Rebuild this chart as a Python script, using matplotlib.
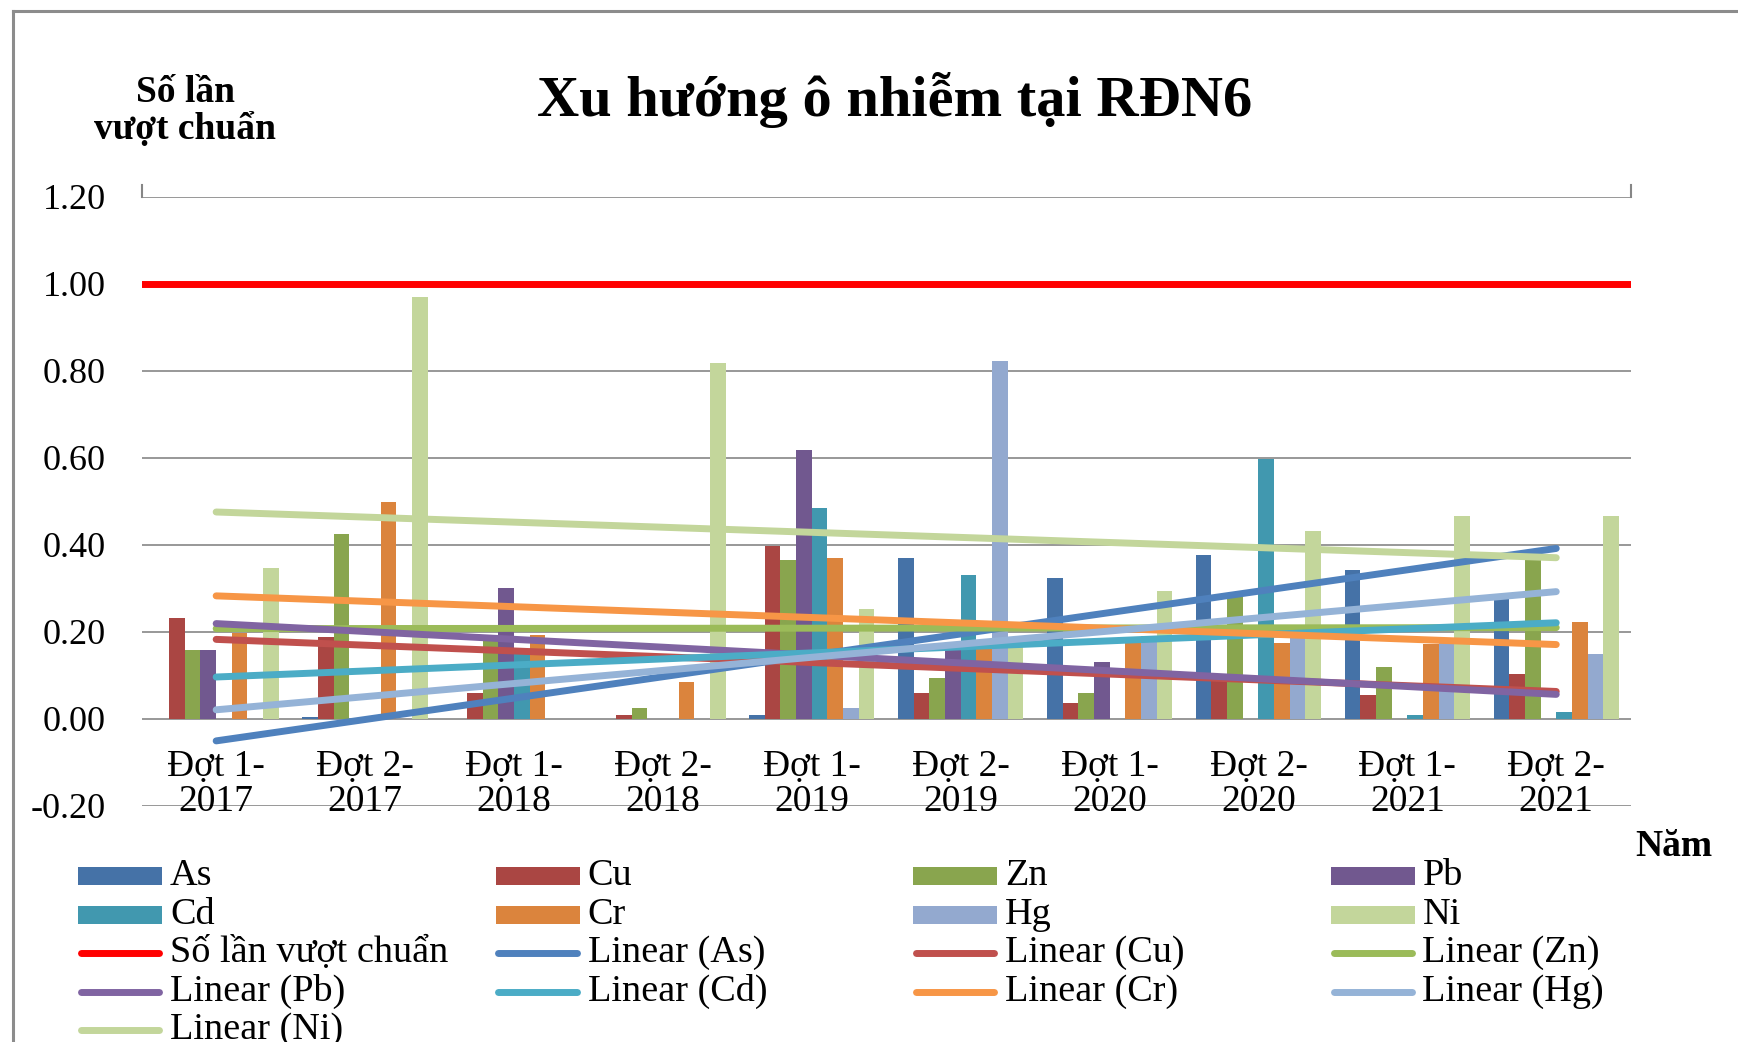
import matplotlib
matplotlib.use('Agg')
import matplotlib.pyplot as plt
from matplotlib.lines import Line2D
from matplotlib.patches import Rectangle
import numpy as np

plt.rcParams['font.family'] = ['Liberation Serif', 'DejaVu Serif']

# Dot quan trac
dot = ["Đợt 1-\n2017", "Đợt 2-\n2017", "Đợt 1-\n2018", "Đợt 2-\n2018", "Đợt 1-\n2019",
       "Đợt 2-\n2019", "Đợt 1-\n2020", "Đợt 2-\n2020", "Đợt 1-\n2021", "Đợt 2-\n2021"]

# So lan vuot chuan cua tung kim loai
As = [0, 0.005, 0, 0, 0.008, 0.369, 0.325, 0.377, 0.343, 0.28]
Cu = [0.232, 0.188, 0.060, 0.008, 0.398, 0.059, 0.037, 0.09, 0.055, 0.103]
Zn = [0.159, 0.424, 0.19, 0.026, 0.365, 0.095, 0.059, 0.28, 0.119, 0.370]
Pb = [0.159, 0, 0.300, 0, 0.617, 0.17, 0.132, 0, 0, 0]
Cd = [0, 0, 0.15, 0, 0.485, 0.330, 0, 0.598, 0.008, 0.016]
Cr = [0.197, 0.498, 0.192, 0.086, 0.369, 0.18, 0.177, 0.175, 0.173, 0.222]
Hg = [0, 0, 0, 0, 0.025, 0.823, 0.19, 0.20, 0.18, 0.150]
Ni = [0.347, 0.970, 0, 0.819, 0.253, 0.18, 0.295, 0.432, 0.467, 0.467]
nguong = 1.0  # so lan vuot chuan = 1

ten = ['As', 'Cu', 'Zn', 'Pb', 'Cd', 'Cr', 'Hg', 'Ni']
du_lieu = [As, Cu, Zn, Pb, Cd, Cr, Hg, Ni]
mau_cot = ['#4572A7', '#AA4643', '#89A54E', '#71588F', '#4198AF', '#DB843D', '#93A9CF', '#C3D69B']
mau_xu_huong = ['#4F81BD', '#C0504D', '#9BBB59', '#8064A2', '#4BACC6', '#F79646', '#95B3D7', '#C3D69B']

W, H = 1738, 1042
fig = plt.figure(figsize=(W / 100, H / 100), dpi=100)
ax = fig.add_axes([141.7 / W, 1 - 806 / H, (1630.7 - 141.7) / W, (806 - 196.7) / H])

x = np.arange(len(dot))
w = 1 / 9.5  # gap width 150%

for j in range(len(ten)):
    ax.bar(x + (j - 3.5) * w, du_lieu[j], w, color=mau_cot[j], zorder=2)

# Duong xu huong tuyen tinh
for j in range(len(ten)):
    k = np.polyfit(x + 1, du_lieu[j], 1)
    ax.plot(x, np.polyval(k, x + 1), color=mau_xu_huong[j], lw=5,
            solid_capstyle='round', zorder=3)

ax.axhline(nguong, color='#FF0000', lw=5, zorder=4)

ax.set_xlim(-0.5, 9.5)
ax.set_ylim(-0.2, 1.2)
ax.set_yticks(np.arange(-0.2, 1.21, 0.2))
ax.set_yticklabels(['%.2f' % v for v in np.arange(-0.2, 1.21, 0.2)], fontsize=26)
ax.set_xticks([])
ax.tick_params(axis='y', length=0, pad=26)
ax.yaxis.grid(True, color='#868686', lw=1.2, zorder=0)
for s in ax.spines.values():
    s.set_visible(False)
# vach nho o hai dau truc tren
for xa in (0, 1):
    ax.plot([xa, xa], [1, 1.019], transform=ax.transAxes, color='#868686', lw=1.5, clip_on=False)

for i, lab in enumerate(dot):
    ax.text(i, -0.15, lab, ha='center', va='center', fontsize=27, linespacing=1.0, zorder=5)

fig.text(0.515, 0.904, 'Xu hướng ô nhiễm tại RĐN6', ha='center', va='center',
         fontsize=42, fontweight='bold')
fig.text(185 / W, 1 - 111 / H, 'Số lần\nvượt chuẩn', ha='center', va='center',
         fontsize=27, fontweight='bold', linespacing=1.05)
fig.text(1674 / W, 1 - 846 / H, 'Năm', ha='center', va='center', fontsize=27, fontweight='bold')

# Khung bieu do
fig.add_artist(Line2D([13 / W, 13 / W], [0, 1 - 11 / H], color='#8c8c8c', lw=2.2))
fig.add_artist(Line2D([13 / W, 1], [1 - 11 / H, 1 - 11 / H], color='#8c8c8c', lw=2.2))

# Chu giai: 4 cot, xep theo hang
muc = [(t, 'bar', c) for t, c in zip(ten, mau_cot)]
muc.append(('Số lần vượt chuẩn', 'line', '#FF0000'))
muc += [('Linear (%s)' % t, 'line', c) for t, c in zip(ten, mau_xu_huong)]

for n, (nhan, kieu, mau) in enumerate(muc):
    r, c = divmod(n, 4)
    x0 = 78 + 417.5 * c
    y0 = 876 + 38.5 * r
    if kieu == 'bar':
        fig.add_artist(Rectangle((x0 / W, 1 - (y0 + 9) / H), 84 / W, 18 / H,
                                 facecolor=mau, edgecolor='none'))
    else:
        fig.add_artist(Line2D([(x0 + 3) / W, (x0 + 81) / W], [1 - y0 / H, 1 - y0 / H],
                              color=mau, lw=5, solid_capstyle='round'))
    fig.text((x0 + 92) / W, 1 - y0 / H, nhan, ha='left', va='center', fontsize=27.5)

fig.savefig('out.png', dpi=100)
